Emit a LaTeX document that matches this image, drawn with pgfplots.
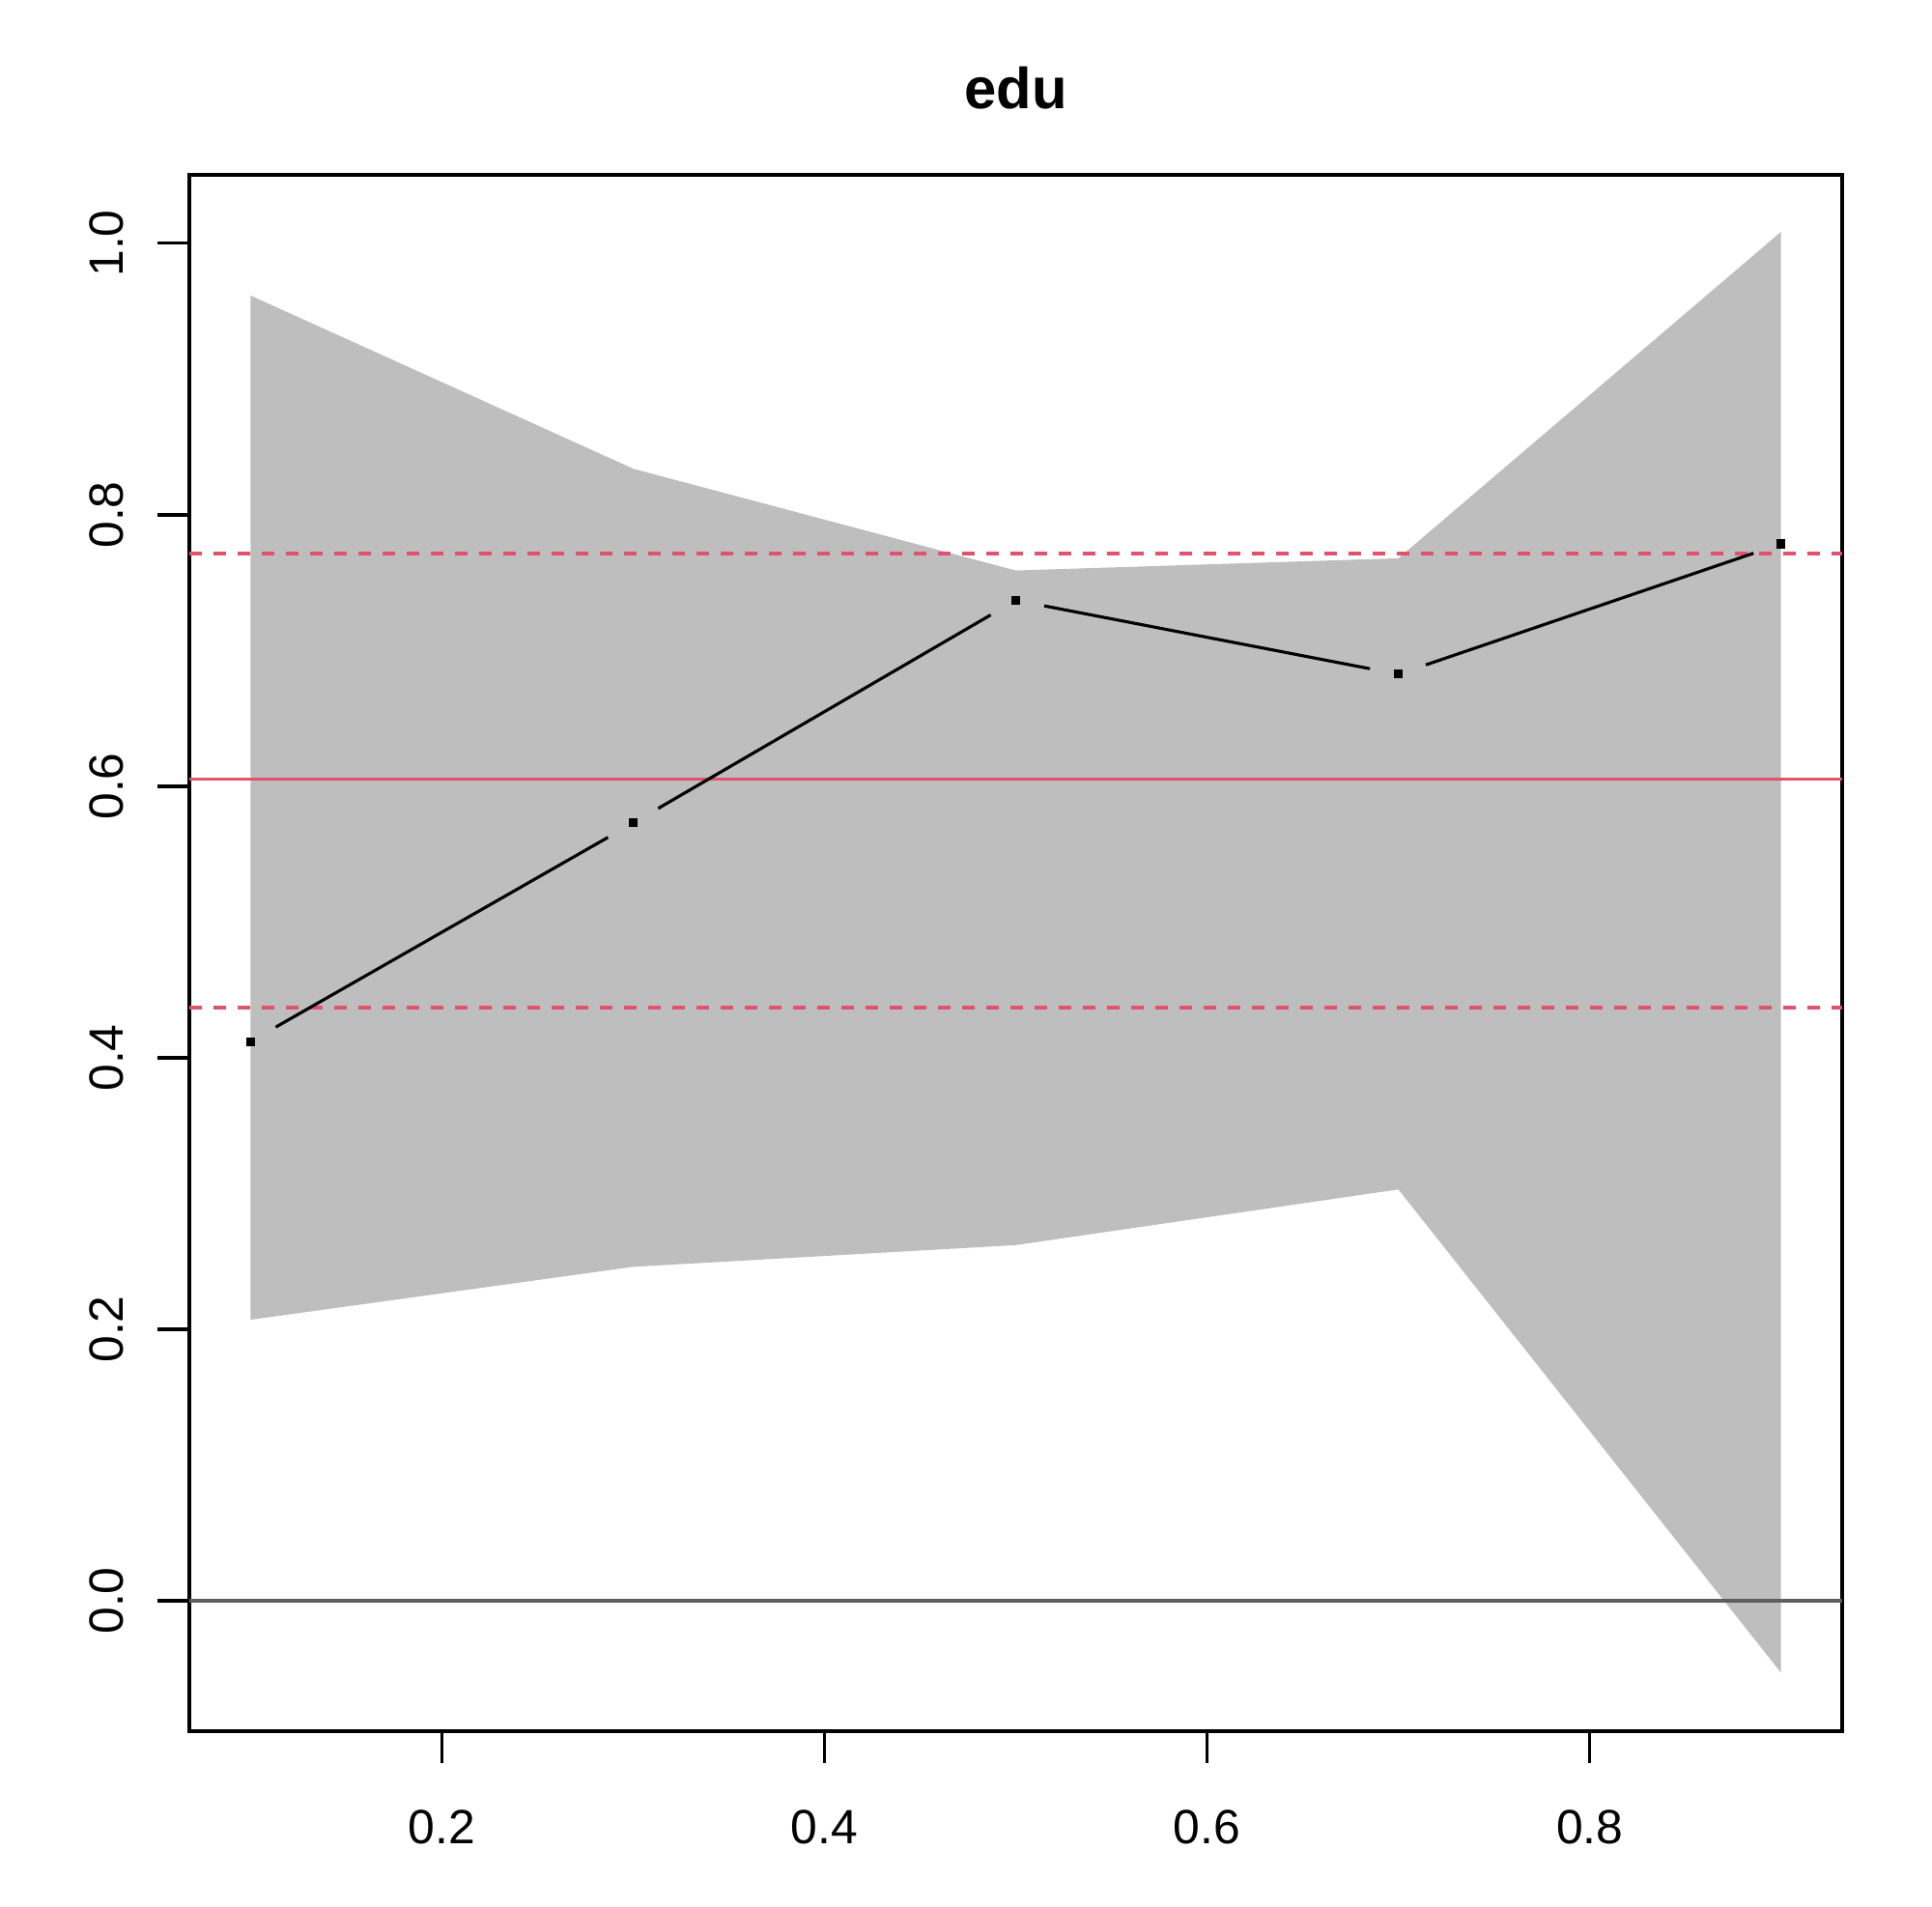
\documentclass[border=0pt]{standalone}
\usepackage{fontspec}
\setmainfont{Liberation Sans}
\usepackage{pgfplots}
\pgfplotsset{compat=1.18}
\definecolor{bandgray}{HTML}{BEBEBE}
\definecolor{rred}{HTML}{DF536B}
\definecolor{zerogray}{HTML}{5E5E5E}
\begin{document}
\begin{tikzpicture}
\path[use as bounding box] (0,0) rectangle (480bp,473.76bp);
\begin{axis}[
    at={(47.04bp,43.68bp)}, anchor=south west,
    scale only axis, width=410.64bp, height=386.64bp,
    xmin=0.068, xmax=0.932, ymin=-0.0961, ymax=1.0505,
    axis line style={line width=0.75bp},
    every tick/.style={black, line width=0.75bp},
    tick align=outside, major tick length=7.92bp,
    xtick pos=bottom, ytick pos=left,
    xtick={0.2,0.4,0.6,0.8}, xticklabels={0.2,0.4,0.6,0.8},
    ytick={0,0.2,0.4,0.6,0.8,1.0}, yticklabels={0.0,0.2,0.4,0.6,0.8,1.0},
    /pgf/number format/assume math mode=true,
    tick label style={font=\fontsize{12}{14}\selectfont, inner sep=0pt},
    xticklabel style={anchor=base, yshift=-19.92bp},
    yticklabel style={rotate=90, anchor=base, yshift=8.64bp},
]
% confidence band
\addplot[fill=bandgray, draw=none] coordinates {
    (0.1,0.9616)(0.3,0.834)(0.5,0.759)(0.7,0.768)(0.9,1.0085)
    (0.9,-0.053)(0.7,0.303)(0.5,0.262)(0.3,0.246)(0.1,0.207)
} -- cycle;
% reference lines
\addplot[zerogray, line width=0.75bp] coordinates {(0.068,0)(0.932,0)};
\addplot[rred, line width=0.75bp] coordinates {(0.068,0.605)(0.932,0.605)};
\addplot[rred, line width=0.75bp, dash pattern=on 3bp off 3bp] coordinates {(0.068,0.7715)(0.932,0.7715)};
\addplot[rred, line width=0.75bp, dash pattern=on 3bp off 3bp] coordinates {(0.068,0.437)(0.932,0.437)};
% estimate, drawn as type "b"
\addplot[black, line width=0.75bp, shorten <=7.2bp, shorten >=7.2bp] coordinates {(0.1,0.412)(0.3,0.573)};
\addplot[black, line width=0.75bp, shorten <=7.2bp, shorten >=7.2bp] coordinates {(0.3,0.573)(0.5,0.737)};
\addplot[black, line width=0.75bp, shorten <=7.2bp, shorten >=7.2bp] coordinates {(0.5,0.737)(0.7,0.6826)};
\addplot[black, line width=0.75bp, shorten <=7.2bp, shorten >=7.2bp] coordinates {(0.7,0.6826)(0.9,0.7786)};
\addplot[only marks, mark=square*, mark size=0.9bp, black] coordinates {
    (0.1,0.412)(0.3,0.573)(0.5,0.737)(0.7,0.6826)(0.9,0.7786)
};
\end{axis}
\node[font=\bfseries\fontsize{14.4}{17}\selectfont, anchor=base] at (252.36bp,446.64bp) {edu};
\end{tikzpicture}
\end{document}
